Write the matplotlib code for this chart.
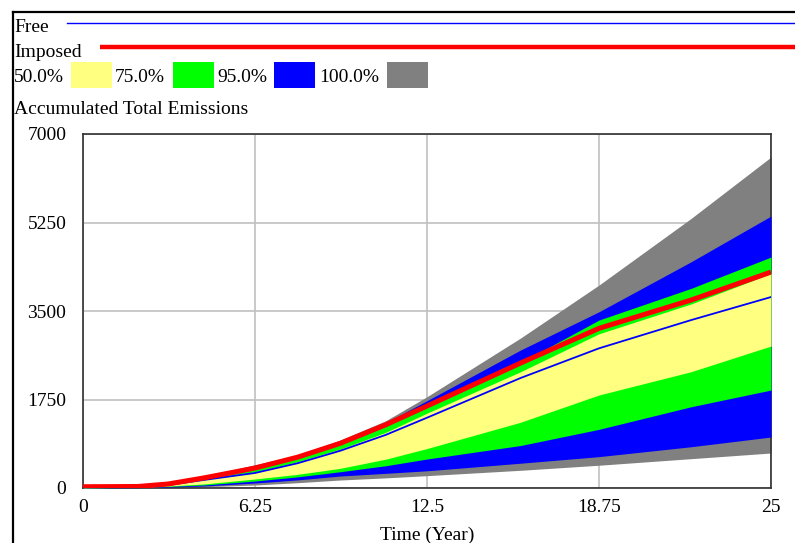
import matplotlib
matplotlib.use("Agg")
import matplotlib.pyplot as plt
from matplotlib.lines import Line2D
from matplotlib.patches import Rectangle

# ---- data ----
time = [0, 2, 3.1, 4.4, 6.25, 7.8, 9.35, 11, 12.5, 15.9, 18.75, 22.1, 25]
gray_top = [15, 35, 95, 225, 460, 650, 950, 1330, 1805, 2965, 4013, 5332, 6544]
blue_top = [14, 33, 92, 220, 450, 630, 925, 1290, 1726, 2728, 3485, 4474, 5377]
green_top = [12, 30, 85, 205, 370, 590, 860, 1225, 1640, 2480, 3321, 3948, 4567]
yellow_top = [10, 28, 75, 185, 320, 520, 770, 1100, 1480, 2299, 3050, 3640, 4240]
yellow_bot = [5, 15, 40, 80, 178, 270, 389, 570, 780, 1300, 1839, 2300, 2807]
green_bot = [4, 12, 30, 60, 138, 220, 322, 440, 573, 840, 1160, 1607, 1937]
blue_bot = [3, 8, 20, 40, 99, 160, 237, 290, 340, 490, 620, 816, 1008]
gray_bot = [2, 5, 12, 25, 59, 105, 158, 200, 244, 350, 450, 580, 692]
free = [0, 10, 60, 160, 297, 490, 737, 1050, 1390, 2175, 2762, 3321, 3776]
imposed = [25, 30, 80, 200, 395, 610, 884, 1250, 1621, 2471, 3157, 3717, 4270]

band_labels = ["50.0%", "75.0%", "95.0%", "100.0%"]
band_colors = ["#FFFF80", "#00FF00", "#0000FF", "#808080"]
xticks = [0, 6.25, 12.5, 18.75, 25]
xticklabels = ["0", "6.25", "12.5", "18.75", "25"]
yticks = [0, 1750, 3500, 5250, 7000]
yticklabels = ["0", "1750", "3500", "5250", "7000"]

W, H = 795, 543
def fx(p): return p / W
def fy(p): return 1 - p / H

plt.rcParams['font.family'] = ['Liberation Serif', 'DejaVu Serif']
fig = plt.figure(figsize=(W / 100, H / 100), dpi=100)
ax = fig.add_axes([fx(83), fy(488), fx(771) - fx(83), fy(134) - fy(488)])

ax.fill_between(time, gray_bot, gray_top, color=band_colors[3], lw=0, zorder=2)
ax.fill_between(time, blue_bot, blue_top, color=band_colors[2], lw=0, zorder=3)
ax.fill_between(time, green_bot, green_top, color=band_colors[1], lw=0, zorder=4)
ax.fill_between(time, yellow_bot, yellow_top, color=band_colors[0], lw=0, zorder=5)
ax.plot(time, free, color="#0000FF", lw=1.3, zorder=6)
ax.plot(time, imposed, color="#FF0000", lw=3.6, zorder=7, solid_capstyle='butt')

ax.set_xlim(0, 25)
ax.set_ylim(0, 7000)
ax.set_xticks(xticks)
ax.set_xticklabels(xticklabels)
ax.set_yticks(yticks)
ax.set_yticklabels(yticklabels)
ax.tick_params(axis='both', length=0, labelsize=14, colors='black')
ax.tick_params(axis='y', pad=12)
ax.tick_params(axis='x', pad=8)
ax.grid(True, color="#C0C0C0", lw=1.2, zorder=1)
ax.set_axisbelow(True)
for s in ax.spines.values():
    s.set_color("#303030")
    s.set_linewidth(1.2)

fig.text(fx(427), fy(540), "Time (Year)", ha='center', va='baseline', fontsize=14)

# ---- header / legend ----
fs = 14
fig.text(fx(14), fy(32), "Free", ha='left', va='baseline', fontsize=fs)
fig.add_artist(Line2D([fx(67), 1], [fy(23), fy(23)], color="#0000FF", lw=1.0))
fig.text(fx(14), fy(57), "Imposed", ha='left', va='baseline', fontsize=fs)
fig.add_artist(Line2D([fx(100), 1], [fy(47), fy(47)], color="#FF0000", lw=3.2, solid_capstyle='butt'))

text_x = [14, 115, 217, 319]
box_x = [71, 173, 274, 387]
for lab, col, tx, bx in zip(band_labels, band_colors, text_x, box_x):
    fig.text(fx(tx), fy(82), lab, ha='left', va='baseline', fontsize=fs)
    fig.add_artist(Rectangle((fx(bx), fy(88)), fx(41), fy(62) - fy(88),
                             facecolor=col, edgecolor='none', transform=fig.transFigure))

fig.text(fx(14), fy(114), "Accumulated Total Emissions", ha='left', va='baseline', fontsize=fs)

# outer frame
fig.add_artist(Line2D([fx(13), 1], [fy(12), fy(12)], color='black', lw=1.6))
fig.add_artist(Line2D([fx(13), fx(13)], [0, fy(12)], color='black', lw=1.6))

fig.savefig("out.png", dpi=100)
